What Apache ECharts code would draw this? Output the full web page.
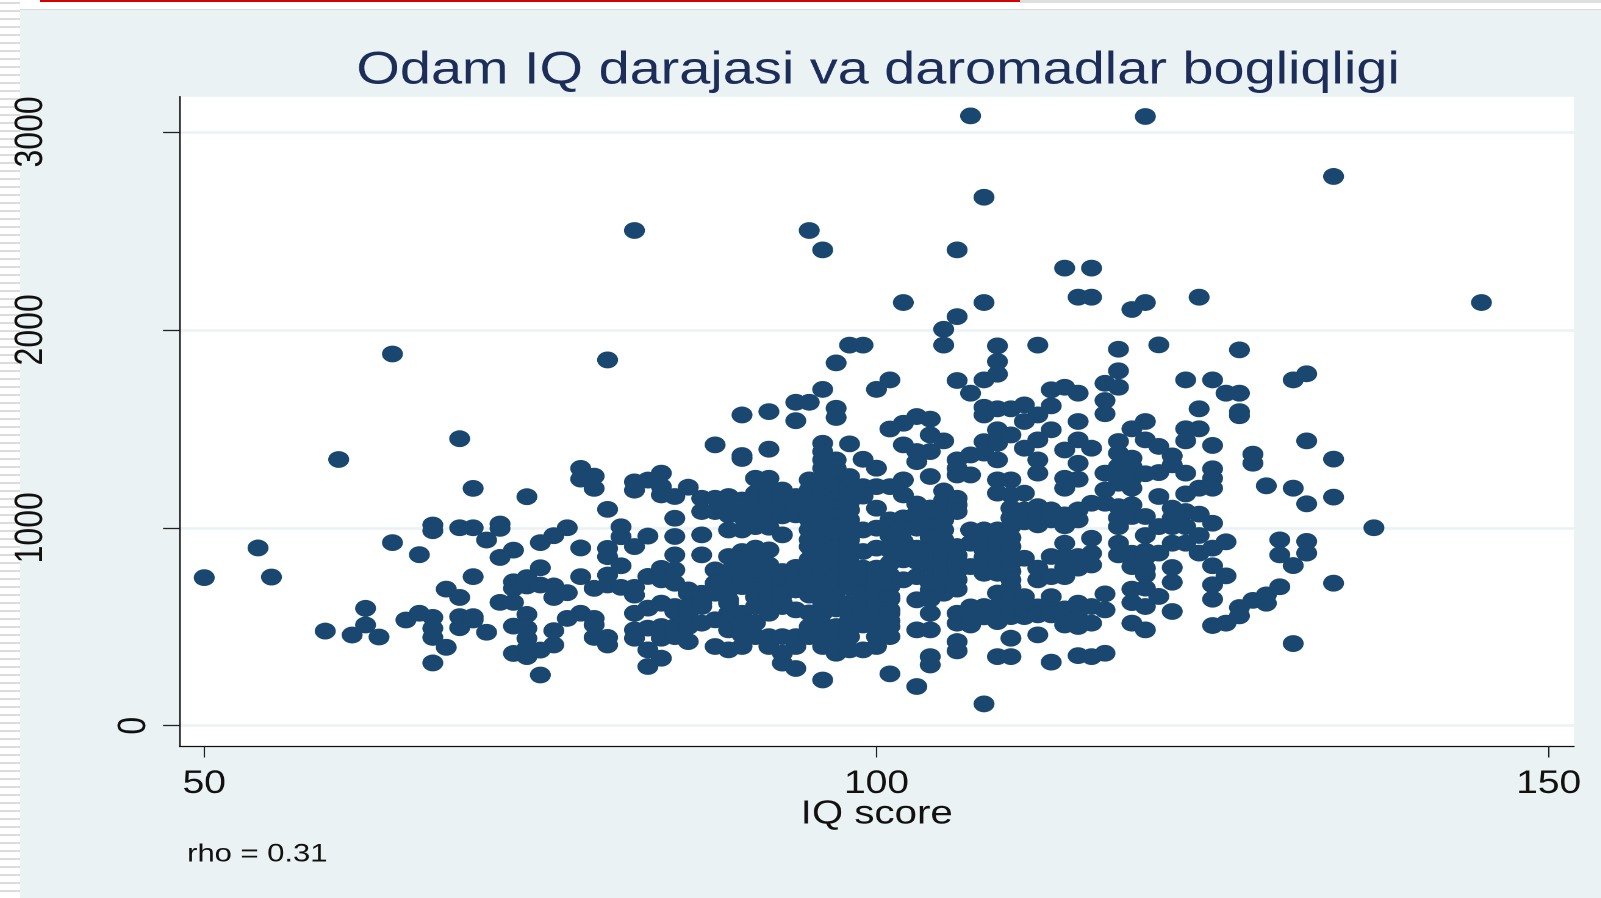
<!DOCTYPE html>
<html><head><meta charset="utf-8">
<style>
html,body{margin:0;padding:0;width:1601px;height:898px;overflow:hidden;background:#fff}
#stripes{position:absolute;left:0;top:0;width:20px;height:898px;background-size:20px 8px;background-image:linear-gradient(to bottom,#dcdcdc 0,#dcdcdc 2px,#fff 2px,#fff 8px);background-position:0 10px}
#panel{position:absolute;left:20px;top:9px;right:0;bottom:0;background:#eaf2f3;border-top:1px solid #d9d9d9}
#redline{position:absolute;left:40px;top:0;width:980px;height:1.5px;background:#d70000}
#greyline{position:absolute;left:1020px;top:0;right:0;height:2.5px;background:#dedede}
#chart{position:absolute;left:0;top:0;width:1312.3px;height:898px;transform:scaleX(1.22);transform-origin:0 0}
</style>
<script src="https://cdn.jsdelivr.net/npm/echarts@6/dist/echarts.min.js"></script>
</head><body>
<div id="stripes"></div><div id="panel"></div><div id="redline"></div><div id="greyline"></div>
<div id="chart"></div>
<script>
const chartTitle = 'Odam IQ darajasi va daromadlar bogliqligi';
const xName = 'IQ score';
const noteText = 'rho = 0.31';
const xTicks = [50, 100, 150];
const yTicksMain = [1000, 2000, 3000];
const yTicksZero = [0];
const iqScores = [50,54,55,59,60,61,62,63,64,65,66,67,68,69,70,71,72,73,74,75,76,77,78,79,80,81,82,83,84,85,86,87,88,89,90,91,92,93,94,95,96,97,98,99,100,101,102,103,104,105,106,107,108,109,110,111,112,113,114,115,116,117,118,119,120,121,122,123,124,125,126,127,128,129,130,131,132,134,137,145];
const wagesAtScore = [
[748],[898],[751],[478],[1345],[458],[593,509],[448],[1878,925],[534],[864,568],
[1014,985,547,492,446,317],[690,396],[1450,1000,648,551,495],[1199,1000,753,551,534],[938,472],
[1019,997,850,623],[887,727,694,623,503,365],[1157,748,706,562,492,441,391,349],[925,798,711,382,256],
[960,706,648,480,408],[1000,672,542],[1300,1246,898,753,568],[1261,1199,694,542,510,446],
[1848,1093,896,854,761,711,446,408],[1005,955,808,699],[2502,1232,1190,905,699,660,568,484,442],
[1241,958,754,594,493,383,299],[1276,1208,1166,795,737,619,501,442,341],
[1158,1048,956,863,787,720,602,500,577,450],[1205,686,669,602,568,518,501,425],[1149,1082,964,863,669,619,602,518],
[1419,1149,1082,787,720,669,535,400],[1158,1100,1065,989,855,779,703,687,636,619,568,535,484,383],
[1570,1365,1350,1140,1100,1057,989,880,812,740,720,703,568,517,484,459,400],[1250,1175,1130,1090,1040,1006,897,850,779,703,687,650,602,520,450],
[1587,1397,1250,1200,1175,1130,1099,1040,1003,888,812,760,703,669,650,585,568,450,442,400],[1191,1150,1124,1060,964,779,720,669,660,619,602,450,366,316],
[1634,1541,1158,1100,1065,800,740,686,585,450,400,289],[2502,1634,1242,1191,1130,1082,1040,989,940,905,840,780,720,660,570,500,450],
[2404,1699,1427,1385,1343,1301,1250,1191,1124,1082,1030,980,930,880,830,780,720,670,620,570,510,450,400,231],
[1833,1604,1557,1343,1301,1259,1200,1150,1100,1050,1000,950,900,850,800,750,690,640,590,501,434,366],
[1923,1424,1259,1210,1175,1130,1090,1040,989,940,905,860,821,780,754,700,619,570,535,490,450,383],[1923,1346,1208,1160,989,880,796,720,669,652,610,568,551,509,383],
[1699,1301,1208,1099,998,897,796,740,703,660,619,570,518,450,400],[1747,1499,1208,1040,960,888,821,760,703,652,640,585,568,530,501,450,262],
[2138,1528,1419,1242,1166,1050,989,930,888,838,737],[1562,1385,1334,1120,1073,998,897,830,753,636,484,198],
[1549,1469,1385,1259,1100,1050,1006,950,888,830,770,720,686,640,568,484,349,307],[2003,1923,1439,1186,1140,1090,1040,989,940,905,860,821,780,737,690,669],
[2404,2067,1744,1343,1300,1267,1149,1116,1082,905,860,821,780,737,690,568,518,425,378],[3081,1680,1368,1267,989,922,804,600,590,560,509],
[2670,2138,1747,1609,1570,1435,1377,989,940,888,850,804,770,602,550,110],[1919,1840,1776,1601,1495,1427,1343,1242,1175,989,940,888,850,804,770,670,602,526,349],
[1601,1469,1242,1166,1099,1050,1006,950,905,860,821,780,737,700,652,600,551,442,349],[1621,1537,1402,1175,1090,1030,846,652,602,590,551],
[1923,1570,1444,1343,1276,1107,1050,1015,796,737,600,568,560,459],[1697,1616,1495,1090,1040,855,753,652,585,560,321],
[2312,1710,1393,1250,1200,1065,1010,922,855,800,753,590,551,509],[2165,1680,1537,1444,1326,1245,1090,1040,855,796,619,580,540,501,354],
[2312,2165,1402,1124,947,871,812,602,518,349],[1730,1643,1576,1276,1191,1124,666,585,366],
[1902,1793,1710,1436,1377,1310,1259,1225,1107,1050,1006,922,863],[2103,1500,1352,1310,1250,1200,1116,1057,871,804,690,622,518],
[3078,2138,1537,1444,1273,1057,961,882,850,796,762,695,602,484],[1924,1411,1279,1158,1006,872,653],
[1363,1318,1099,1049,1006,922,799,725,577],[1747,1500,1439,1276,1171,1082,1006,922],[2165,1601,1500,1200,1069,961,872],
[1747,1416,1298,1250,1200,1023,897,808,712,639,506],[1680,929,757,518],[1899,1680,1587,1566,597,555],[1372,1326,633],
[1212,661,619],[939,863,702],[1747,1200,809,415],[1778,1439,1121,931,872],[2775,1347,1155,720],[1000],[2138]
];
const points = iqScores.flatMap((iq, i) => wagesAtScore[i].map(w => [iq, w]));

const S = 1.22;
const yMin = -102.6, yMax = 3178;
const fontFamily = '"Liberation Sans", Arial, sans-serif';
const plainNumber = v => String(v);
const chart = echarts.init(document.getElementById('chart'), null, {renderer:'canvas', devicePixelRatio:2});
chart.setOption({
  animation:false,
  backgroundColor:'transparent',
  title:[
    {text:chartTitle,left:872/S,textAlign:'center',top:43,textStyle:{fontFamily,fontWeight:'normal',fontSize:45.8,color:'#1c2d5a'}},
    {text:noteText,left:181/S,top:837,textStyle:{fontFamily,fontWeight:'normal',fontSize:25.4,color:'#111'}}
  ],
  grid:{left:179.5/S,right:(1601-1574.3)/S,top:96.7,bottom:152,show:true,backgroundColor:'#fff',borderWidth:0,containLabel:false},
  xAxis:{type:'value',min:48.16,max:151.88,
    name:xName,nameLocation:'middle',nameGap:52,nameMoveOverlap:false,nameTextStyle:{fontFamily,fontSize:33,color:'#111'},
    axisLine:{show:true,onZero:false,lineStyle:{color:'#111',width:1.3}},
    axisTick:{show:true,length:11.5,customValues:xTicks,lineStyle:{color:'#222',width:1.1}},
    axisLabel:{show:true,customValues:xTicks,margin:22,fontFamily,fontSize:32,color:'#111',showMinLabel:true,showMaxLabel:true,formatter:plainNumber},
    splitLine:{show:false}},
  yAxis:[
   {type:'value',min:yMin,max:yMax,position:'left',
    axisLine:{show:true,onZero:false,lineStyle:{color:'#111',width:1.3}},
    axisTick:{show:true,length:13.5,customValues:[0,...yTicksMain],lineStyle:{color:'#222',width:1.3}},
    axisLabel:{show:true,customValues:yTicksMain,rotate:90,margin:105.5,fontFamily,fontSize:32,color:'#111',formatter:plainNumber},
    splitLine:{show:true,lineStyle:{color:'#eaf2f3',width:2.5}}},
   {type:'value',min:yMin,max:yMax,position:'left',
    axisLine:{show:false},axisTick:{show:false},
    axisLabel:{show:true,customValues:yTicksZero,rotate:90,margin:21,fontFamily,fontSize:32,color:'#111',formatter:plainNumber},
    splitLine:{show:false}}
  ],
  series:[{type:'scatter',xAxisIndex:0,yAxisIndex:0,data:points,symbol:'circle',symbolSize:[17.2,16.8],
    itemStyle:{color:'#1a476f',opacity:1},emphasis:{disabled:true},silent:true}]
});
</script>
</body></html>
